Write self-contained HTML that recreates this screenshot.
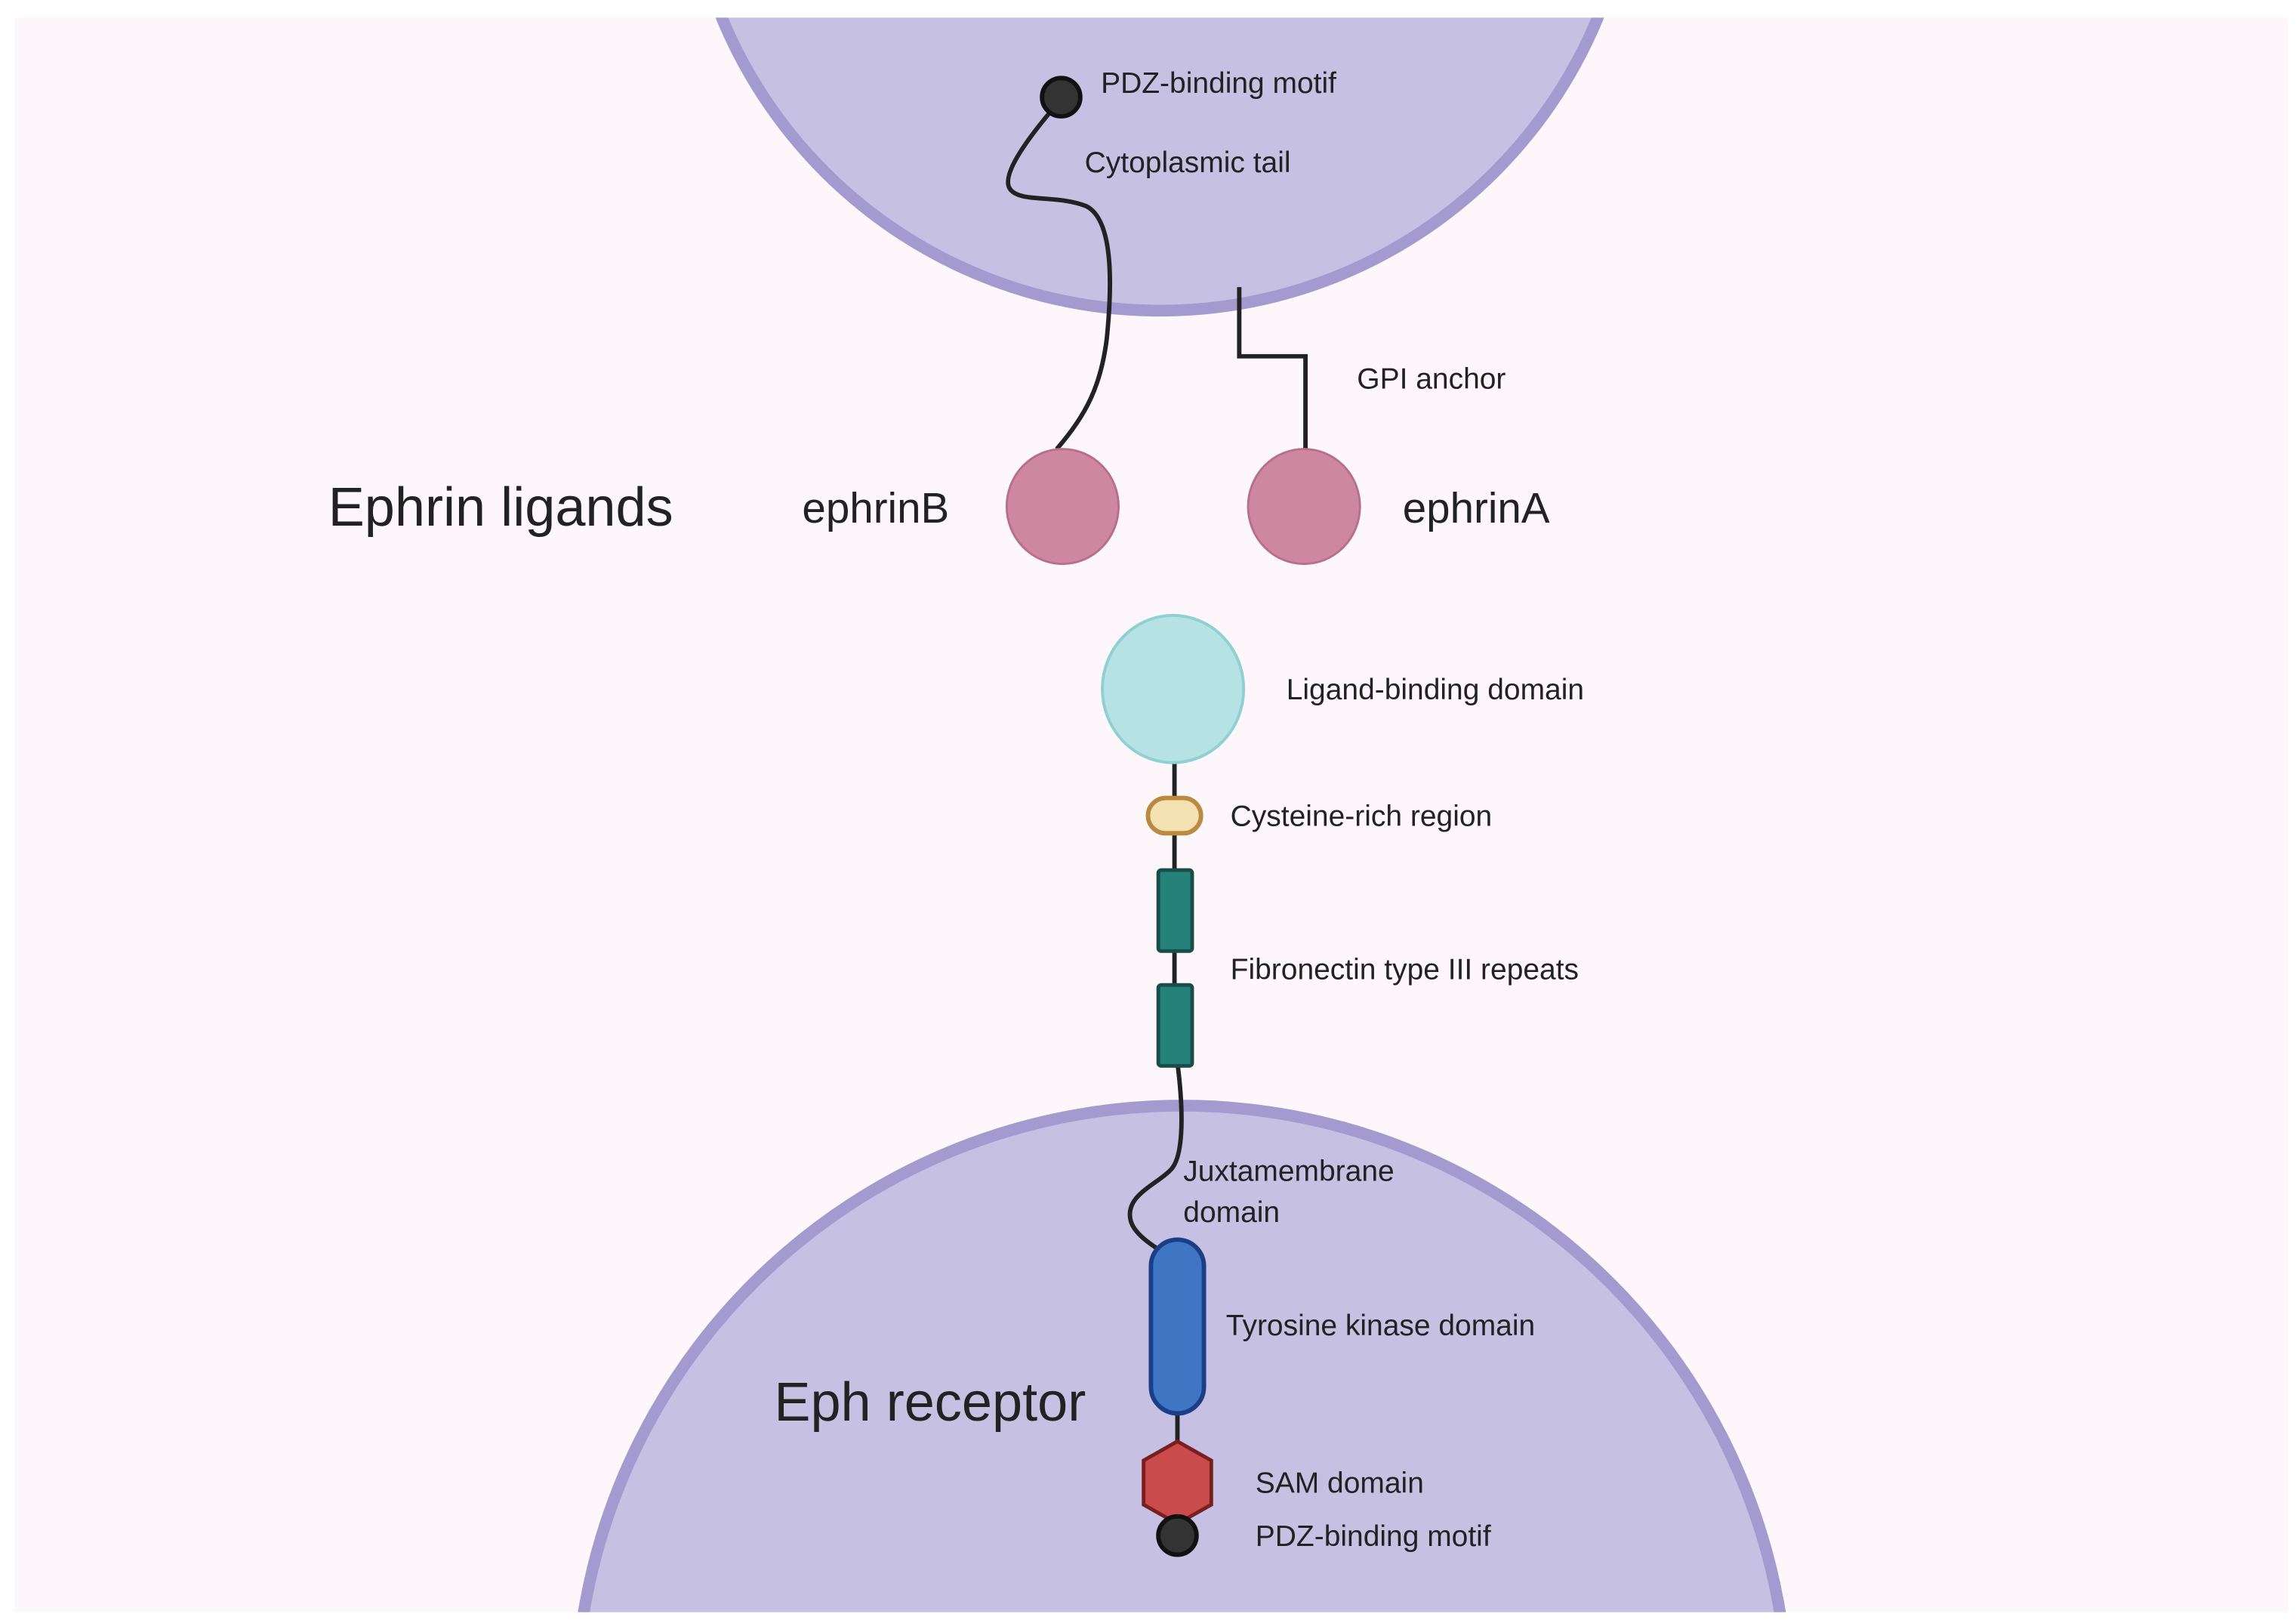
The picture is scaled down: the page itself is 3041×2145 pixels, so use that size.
<!DOCTYPE html>
<html><head><meta charset="utf-8"><style>
html,body{margin:0;padding:0;background:#fff;overflow:hidden;width:3041px;height:2145px;}
svg{display:block;}
text{font-family:"Liberation Sans",sans-serif;fill:#222;}
</style></head><body>
<svg width="3041" height="2145" viewBox="0 0 1560 1100.35" preserveAspectRatio="none" xmlns="http://www.w3.org/2000/svg">
<defs><clipPath id="p"><rect x="10" y="12" width="1545" height="1083"/></clipPath></defs>
<rect x="0" y="0" width="1560" height="1101" fill="#ffffff"/>
<rect x="10" y="12" width="1545" height="1083" fill="#fdf7fb"/>
<g clip-path="url(#p)">
<circle cx="788" cy="-111" r="322" fill="#c6c0e3" stroke="#a39ad0" stroke-width="8"/>
<circle cx="803" cy="1163" r="412" fill="#c6c0e3" stroke="#a39ad0" stroke-width="8"/>
</g>
<g fill="none" stroke="#222" stroke-width="3">
<path d="M717 72 C700 92 680 118 686 128 C692 138 718 132 738 140 C758 150 755 200 752 230 C748 262 738 282 718 305"/>
<path d="M842 195 L842 242 L887 242 L887 305"/>
<path d="M798 516 L798 591 M798 646 L798 669 M800 960 L800 1040"/>
<path d="M800 722 C803 745 806 785 795 795 C785 805 765 812 768 828 C770 840 790 850 797 855"/>
</g>
<circle cx="721" cy="66" r="13" fill="#333" stroke="#111" stroke-width="3"/>
<ellipse cx="722" cy="344" rx="38" ry="39" fill="#cd889f" stroke="#b8708a" stroke-width="1.5"/>
<ellipse cx="886" cy="344" rx="38" ry="39" fill="#cd889f" stroke="#b8708a" stroke-width="1.5"/>
<ellipse cx="797" cy="468" rx="48" ry="50" fill="#b6e2e4" stroke="#8fd0d2" stroke-width="2"/>
<rect x="780" y="542" width="36" height="24" rx="12" fill="#f3e1b2" stroke="#b98a40" stroke-width="3"/>
<rect x="787" y="591" width="23" height="55" rx="2" fill="#25827a" stroke="#1a4d48" stroke-width="2.5"/>
<rect x="787" y="669" width="23" height="55" rx="2" fill="#25827a" stroke="#1a4d48" stroke-width="2.5"/>
<rect x="782" y="842" width="36" height="118" rx="18" fill="#3e76c4" stroke="#1b3f86" stroke-width="3"/>
<polygon points="800,979 823,992 823,1022 800,1035 777,1022 777,992" fill="#c94b4b" stroke="#7a1f1f" stroke-width="2.5"/>
<circle cx="800" cy="1043" r="13" fill="#333" stroke="#111" stroke-width="3"/>
<g font-size="20">
<text x="748" y="63">PDZ-binding motif</text>
<text x="737" y="117">Cytoplasmic tail</text>
<text x="922" y="264">GPI anchor</text>
<text x="874" y="475">Ligand-binding domain</text>
<text x="836" y="561">Cysteine-rich region</text>
<text x="836" y="665">Fibronectin type III repeats</text>
<text x="804" y="802">Juxtamembrane</text>
<text x="804" y="830">domain</text>
<text x="833" y="907">Tyrosine kinase domain</text>
<text x="853" y="1014">SAM domain</text>
<text x="853" y="1050">PDZ-binding motif</text>
</g>
<text x="223" y="357" font-size="37">Ephrin ligands</text>
<text x="545" y="355" font-size="29">ephrinB</text>
<text x="953" y="355" font-size="29">ephrinA</text>
<text x="526" y="965" font-size="37">Eph receptor</text>
</svg>
</body></html>
